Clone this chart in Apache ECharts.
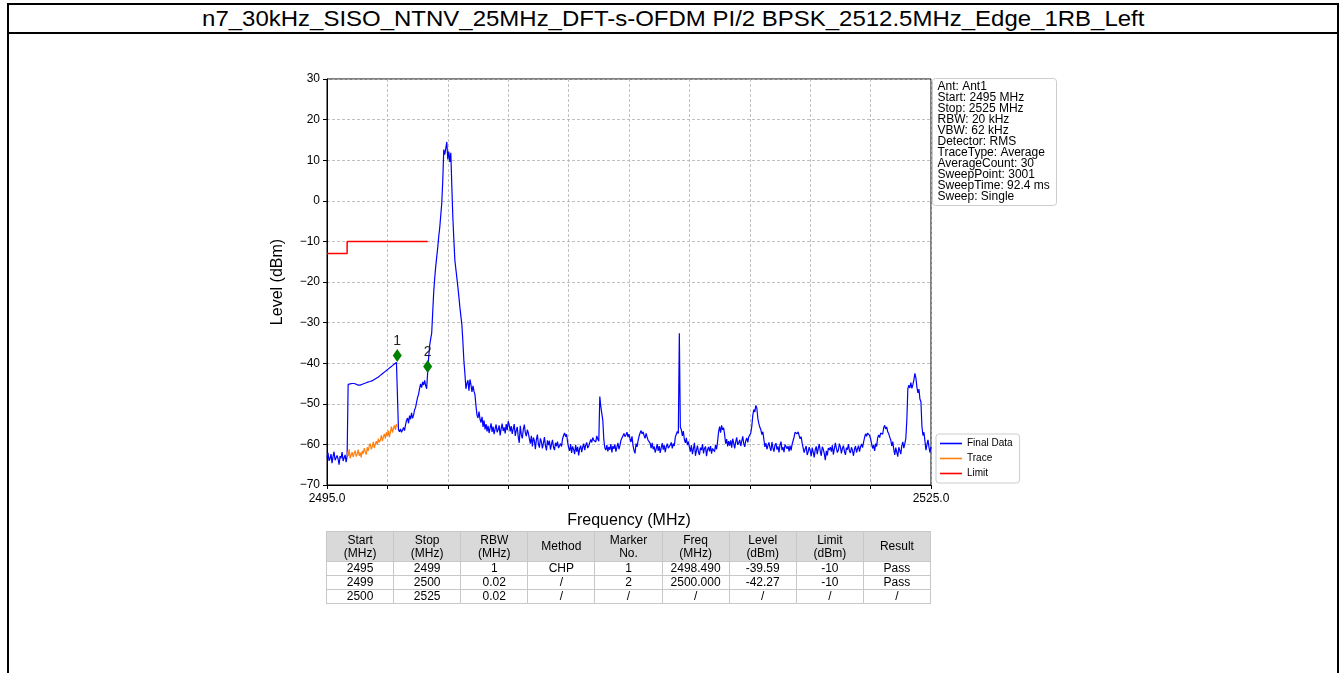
<!DOCTYPE html>
<html>
<head>
<meta charset="utf-8">
<script src="https://cdn.jsdelivr.net/npm/echarts@6/dist/echarts.min.js"></script>
<style>
  html, body { margin: 0; padding: 0; background: #fff; width: 1340px; height: 673px; overflow: hidden; font-family: "Liberation Sans", Arial, sans-serif; }
  .rule { position: absolute; background: #000; }
  #title { position: absolute; left: 9px; top: 5px; width: 1328px; height: 27px; line-height: 27px; text-align: center; font-size: 22px; color: #000; }
  #title span { display: inline-block; transform: scaleX(1.09); transform-origin: center; }
  #chart { position: absolute; left: 0; top: 0; width: 1340px; height: 673px; }
  #tbl { position: absolute; left: 326px; top: 531px; width: 605px; border-collapse: collapse; table-layout: fixed; font-size: 12px; color: #000; }
  #tbl th, #tbl td { border: 1px solid #c8c8c8; padding: 0; text-align: center; font-weight: normal; }
  #tbl th { background: #d9d9d9; height: 29px; line-height: 13px; }
  #tbl td { background: #fff; height: 13px; line-height: 13px; }
</style>
</head>
<body>
<div class="rule" style="left:7px;top:3px;width:1332px;height:2px"></div>
<div class="rule" style="left:7px;top:32px;width:1332px;height:2px"></div>
<div class="rule" style="left:7px;top:3px;width:2px;height:670px"></div>
<div class="rule" style="left:1337px;top:3px;width:2px;height:670px"></div>
<div id="title"><span>n7_30kHz_SISO_NTNV_25MHz_DFT-s-OFDM PI/2 BPSK_2512.5MHz_Edge_1RB_Left</span></div>
<div id="chart"></div>
<table id="tbl"></table>
<script>
// Sweep sampling of the measured spectrum (MHz)
const sweepStart = 2495;
const sweepStep = 0.05;

// Final Data level (dBm), one value per sweep step, 2495.00 .. 2525.00
const finalLevel = [
  -63.2,-62.1,-64.0,-63.5,-62.4,-64.6,-63.0,-61.8,-63.9,-64.3,-62.7,-63.6,-65.0,-62.9,-63.4,-61.9,-64.1,-63.3,-62.6,-64.4,
  -62.8,-45.2,-45.1,-45.1,-45.0,-45.0,-45.0,-45.0,-45.1,-45.2,-45.3,-45.4,-45.4,-45.4,-45.3,-45.2,-45.1,-45.0,-44.9,-44.8,
  -44.7,-44.6,-44.6,-44.5,-44.4,-44.3,-44.2,-44.0,-43.9,-43.7,-43.6,-43.4,-43.2,-43.0,-42.8,-42.6,-42.4,-42.2,-42.0,-41.8,
  -41.6,-41.4,-41.2,-41.0,-40.8,-40.6,-40.4,-40.2,-40.0,-39.8,-39.6,-56.4,-56.9,-56.2,-57.0,-56.5,-55.8,-56.6,-55.2,-54.1,
  -53.5,-54.8,-52.9,-53.8,-52.2,-53.6,-52.8,-51.5,-50.9,-49.6,-48.4,-47.6,-46.2,-45.1,-46.0,-44.6,-45.4,-44.2,-45.5,-46.3,
  -42.3,-38.5,-35.6,-34.0,-32.6,-27.5,-22.5,-19.0,-16.2,-13.8,-11.5,-8.8,-6.6,-3.6,-0.6,5.0,12.6,11.4,12.9,14.5,
  10.2,12.1,9.6,11.8,3.5,-4.0,-9.5,-14.6,-16.8,-19.0,-21.2,-23.6,-26.2,-28.4,-30.6,-34.8,-39.5,-42.6,-46.3,-45.0,
  -44.2,-46.8,-44.0,-45.3,-47.1,-45.6,-46.9,-47.8,-50.5,-52.8,-53.5,-51.9,-53.8,-54.6,-53.2,-55.7,-54.1,-56.3,-55.0,-56.8,
  -55.4,-57.2,-56.0,-54.8,-56.9,-55.6,-57.5,-56.2,-55.1,-57.0,-56.4,-55.3,-57.8,-56.1,-54.9,-56.7,-55.8,-57.3,-55.0,-56.5,
  -54.3,-55.2,-56.8,-55.5,-57.4,-56.2,-55.0,-57.9,-56.6,-55.7,-58.2,-59.6,-55.4,-57.6,-58.5,-56.3,-55.1,-57.1,-58.0,-56.4,
  -57.2,-58.6,-59.8,-57.9,-60.5,-58.3,-59.1,-61.2,-58.8,-57.6,-59.9,-60.8,-58.5,-59.4,-61.0,-59.7,-58.2,-60.3,-61.5,-59.0,
  -60.2,-59.1,-61.3,-60.0,-58.9,-60.7,-61.4,-59.6,-60.4,-59.3,-60.9,-61.2,-59.8,-60.5,-58.6,-57.8,-57.2,-58.1,-57.5,-59.4,
  -60.8,-61.6,-59.9,-62.1,-60.5,-61.3,-62.4,-60.1,-61.8,-60.6,-62.7,-61.0,-60.3,-61.9,-60.7,-59.8,-61.4,-60.2,-59.5,-60.9,
  -60.4,-59.6,-58.8,-59.5,-58.3,-59.0,-58.6,-59.4,-57.9,-58.7,-59.2,-48.2,-50.6,-52.4,-54.1,-58.9,-60.8,-61.4,-60.2,-61.7,
  -60.6,-61.3,-59.9,-62.0,-60.4,-61.1,-60.0,-61.8,-60.7,-59.6,-61.2,-60.3,-59.0,-58.4,-57.9,-57.3,-58.1,-57.6,-57.0,-58.2,
  -57.5,-58.6,-59.4,-58.0,-60.3,-61.5,-62.2,-59.8,-60.6,-59.1,-58.0,-57.2,-56.6,-57.4,-56.9,-57.8,-58.5,-57.3,-58.2,-59.0,
  -58.6,-59.7,-60.9,-59.6,-61.2,-60.5,-62.0,-61.1,-59.9,-61.6,-60.4,-62.1,-60.8,-59.7,-61.3,-60.2,-61.9,-60.6,-59.8,-60.9,
  -61.3,-60.2,-59.5,-61.0,-59.8,-60.4,-58.2,-57.5,-56.8,-57.3,-32.6,-55.8,-56.4,-57.9,-56.7,-58.8,-59.6,-58.4,-60.2,-59.3,
  -60.7,-61.8,-60.2,-62.4,-61.1,-59.6,-62.8,-61.5,-60.3,-61.9,-62.6,-60.8,-61.4,-59.9,-62.2,-61.0,-60.5,-62.9,-61.3,-60.6,
  -61.7,-60.4,-62.3,-61.0,-60.6,-61.8,-60.1,-61.2,-59.3,-56.9,-55.6,-57.1,-55.3,-56.4,-55.9,-57.6,-59.8,-58.7,-60.5,-59.2,
  -60.3,-59.0,-60.8,-58.6,-59.7,-61.0,-59.4,-58.3,-60.1,-59.6,-58.9,-60.4,-59.2,-58.0,-59.8,-60.6,-59.1,-58.4,-59.5,-58.1,
  -57.9,-57.2,-55.5,-52.8,-51.4,-52.0,-50.4,-51.1,-53.6,-54.9,-55.8,-56.4,-57.6,-56.9,-58.8,-60.6,-59.7,-61.2,-60.3,-59.5,
  -60.8,-61.6,-59.4,-60.9,-61.8,-60.2,-59.7,-61.3,-60.5,-62.0,-60.1,-59.3,-61.4,-60.7,-61.9,-60.0,-59.6,-61.1,-60.4,-61.7,
  -60.3,-61.5,-60.0,-59.1,-58.2,-57.0,-56.6,-57.4,-56.9,-57.8,-58.6,-58.1,-59.7,-60.9,-62.0,-61.1,-60.4,-62.6,-61.8,-60.7,
  -61.5,-62.9,-60.8,-61.9,-63.2,-61.3,-60.5,-62.4,-61.0,-59.9,-61.7,-62.8,-60.6,-61.2,-62.3,-63.9,-61.6,-62.7,-60.9,-61.4,
  -60.7,-61.8,-60.2,-62.5,-61.1,-59.6,-60.9,-62.0,-61.4,-59.8,-60.6,-62.2,-61.0,-60.3,-61.7,-62.6,-60.8,-61.3,-59.9,-61.6,
  -62.1,-60.7,-61.5,-62.8,-61.2,-60.4,-62.0,-61.1,-60.3,-61.8,-60.6,-59.9,-60.8,-59.5,-58.3,-57.4,-58.0,-57.2,-56.9,-57.8,
  -58.6,-59.9,-61.0,-60.2,-61.6,-59.8,-60.5,-58.4,-57.7,-58.3,-57.2,-56.8,-57.5,-55.9,-55.3,-56.2,-55.7,-56.9,-57.4,-58.2,
  -58.9,-60.4,-59.3,-61.2,-62.6,-60.8,-61.9,-63.0,-60.7,-61.5,-62.4,-60.3,-59.4,-60.9,-59.8,-58.5,-54.0,-46.3,-45.4,-46.1,
  -44.8,-46.2,-45.3,-44.1,-42.5,-43.6,-45.9,-47.3,-46.4,-48.8,-49.5,-55.6,-57.8,-57.0,-59.2,-61.4,-60.0,-58.9,-60.7,-62.0,
  -60.6
];

// 20 kHz trace under the channel-power span, 2496.00 .. 2498.50
const traceStart = 2496;
const traceLevel = [
  -61.8,-62.9,-61.2,-63.4,-62.6,-61.9,-63.1,-62.2,-61.5,-63.0,
  -62.4,-61.3,-62.8,-62.0,-63.2,-61.6,-62.3,-60.9,-61.8,-62.5,
  -60.7,-61.6,-60.3,-59.8,-61.2,-60.5,-59.4,-60.9,-59.9,-59.2,
  -60.1,-58.6,-59.5,-58.9,-57.8,-59.2,-58.1,-57.4,-58.6,-57.0,
  -57.9,-56.6,-58.2,-56.9,-55.6,-57.1,-56.0,-55.3,-56.4,-55.0,-55.6
];

// Emission limit mask
const limitFreq = [2495, 2496, 2496, 2500];
const limitLevel = [-13, -13, -10, -10];

// Markers
const markerNo = ['1', '2'];
const markerFreq = [2498.49, 2500.000];
const markerLevel = [-39.59, -42.27];

// Axis ranges
const freqMin = 2495, freqMax = 2525, freqTick = 3;
const levelMin = -70, levelMax = 30, levelTick = 10;

// Instrument settings box
const infoLines = [
  'Ant: Ant1', 'Start: 2495 MHz', 'Stop: 2525 MHz', 'RBW: 20 kHz', 'VBW: 62 kHz',
  'Detector: RMS', 'TraceType: Average', 'AverageCount: 30', 'SweepPoint: 3001',
  'SweepTime: 92.4 ms', 'Sweep: Single'
];

// Result table
const tableHead = ['Start<br>(MHz)', 'Stop<br>(MHz)', 'RBW<br>(MHz)', 'Method', 'Marker<br>No.',
  'Freq<br>(MHz)', 'Level<br>(dBm)', 'Limit<br>(dBm)', 'Result'];
const tableRows = [
  ['2495', '2499', '1', 'CHP', '1', '2498.490', '-39.59', '-10', 'Pass'],
  ['2499', '2500', '0.02', '/', '2', '2500.000', '-42.27', '-10', 'Pass'],
  ['2500', '2525', '0.02', '/', '/', '/', '/', '/', '/']
];

// ---- table ----
(function buildTable() {
  const t = document.getElementById('tbl');
  let html = '<tr>' + tableHead.map(h => '<th>' + h + '</th>').join('') + '</tr>';
  tableRows.forEach(r => { html += '<tr>' + r.map(c => '<td>' + c + '</td>').join('') + '</tr>'; });
  t.innerHTML = html;
})();

// ---- chart ----
const FONT = '"Liberation Sans", Arial, sans-serif';
const finalData = finalLevel.map((v, i) => [sweepStart + i * sweepStep, v]);
const traceData = traceLevel.map((v, i) => [traceStart + i * sweepStep, v]);
const limitData = limitFreq.map((f, i) => [f, limitLevel[i]]);
const markerData = markerFreq.map((f, i) => ({ value: [f, markerLevel[i]], name: markerNo[i] }));

const chart = echarts.init(document.getElementById('chart'), null, { renderer: 'canvas' });
chart.setOption({
  animation: false,
  textStyle: { fontFamily: FONT },
  grid: { left: 327, top: 79, width: 604, height: 406, show: true, borderColor: '#000', borderWidth: 1, backgroundColor: '#fff' },
  xAxis: {
    type: 'value', min: freqMin, max: freqMax, interval: freqTick,
    name: 'Frequency (MHz)', nameLocation: 'middle', nameGap: 28,
    nameTextStyle: { fontSize: 16, color: '#000', fontFamily: FONT },
    axisLine: { onZero: false, lineStyle: { color: '#000', width: 1 } },
    axisTick: { show: true, length: 4, lineStyle: { color: '#000' } },
    axisLabel: {
      showMinLabel: true, showMaxLabel: true, margin: 8, fontSize: 12, color: '#000', fontFamily: FONT,
      formatter: v => (v === freqMin || v === freqMax) ? v.toFixed(1) : ''
    },
    splitLine: { show: true, lineStyle: { color: '#b0b0b0', width: 0.8, type: [3, 2] } }
  },
  yAxis: {
    type: 'value', min: levelMin, max: levelMax, interval: levelTick,
    name: 'Level (dBm)', nameLocation: 'middle', nameGap: 41,
    nameTextStyle: { fontSize: 16, color: '#000', fontFamily: FONT },
    axisLine: { show: true, onZero: false, lineStyle: { color: '#000', width: 1 } },
    axisTick: { show: true, length: 4, lineStyle: { color: '#000' } },
    axisLabel: { margin: 7, fontSize: 12, color: '#000', fontFamily: FONT, formatter: v => String(v).replace('-', '\u2212') },
    splitLine: { show: true, lineStyle: { color: '#b0b0b0', width: 0.8, type: [3, 2] } }
  },
  legend: {
    data: [
      { name: 'Final Data', icon: 'rect' },
      { name: 'Trace', icon: 'rect' },
      { name: 'Limit', icon: 'rect' }
    ],
    orient: 'vertical', left: 936, top: 434,
    itemWidth: 22, itemHeight: 1.6, itemGap: 5,
    padding: [4.5, 7, 4.5, 4],
    borderColor: '#cccccc', borderWidth: 1, borderRadius: 3, backgroundColor: '#fff',
    textStyle: { fontSize: 10, lineHeight: 10, color: '#000', fontFamily: FONT }
  },
  graphic: [{
    type: 'group', left: 932, top: 78,
    children: [
      { type: 'rect', shape: { x: 0, y: 0, width: 124, height: 127, r: 3 }, style: { fill: '#fff', stroke: '#cccccc', lineWidth: 1 } },
      { type: 'text', x: 5, y: 2.5, style: { text: infoLines.join('\n'), font: '12px ' + FONT, lineHeight: 11, fill: '#000' } }
    ]
  }],
  series: [
    { name: 'Final Data', type: 'line', data: finalData, symbol: 'none', lineStyle: { color: '#0000ff', width: 1.2 }, itemStyle: { color: '#0000ff' }, z: 3 },
    { name: 'Trace', type: 'line', data: traceData, symbol: 'none', lineStyle: { color: '#ff7f0e', width: 1.2 }, itemStyle: { color: '#ff7f0e' }, z: 4 },
    { name: 'Limit', type: 'line', data: limitData, symbol: 'none', lineStyle: { color: '#ff0000', width: 1.5 }, itemStyle: { color: '#ff0000' }, z: 5 },
    {
      name: 'Markers', type: 'scatter', data: markerData, symbol: 'diamond', symbolSize: [9, 13], symbolOffset: [0, -6],
      itemStyle: { color: '#008000', opacity: 1 }, z: 6,
      label: { show: true, position: 'top', distance: 1, formatter: p => p.name, fontSize: 14, color: '#222', fontFamily: FONT }
    }
  ]
});
</script>
</body>
</html>
